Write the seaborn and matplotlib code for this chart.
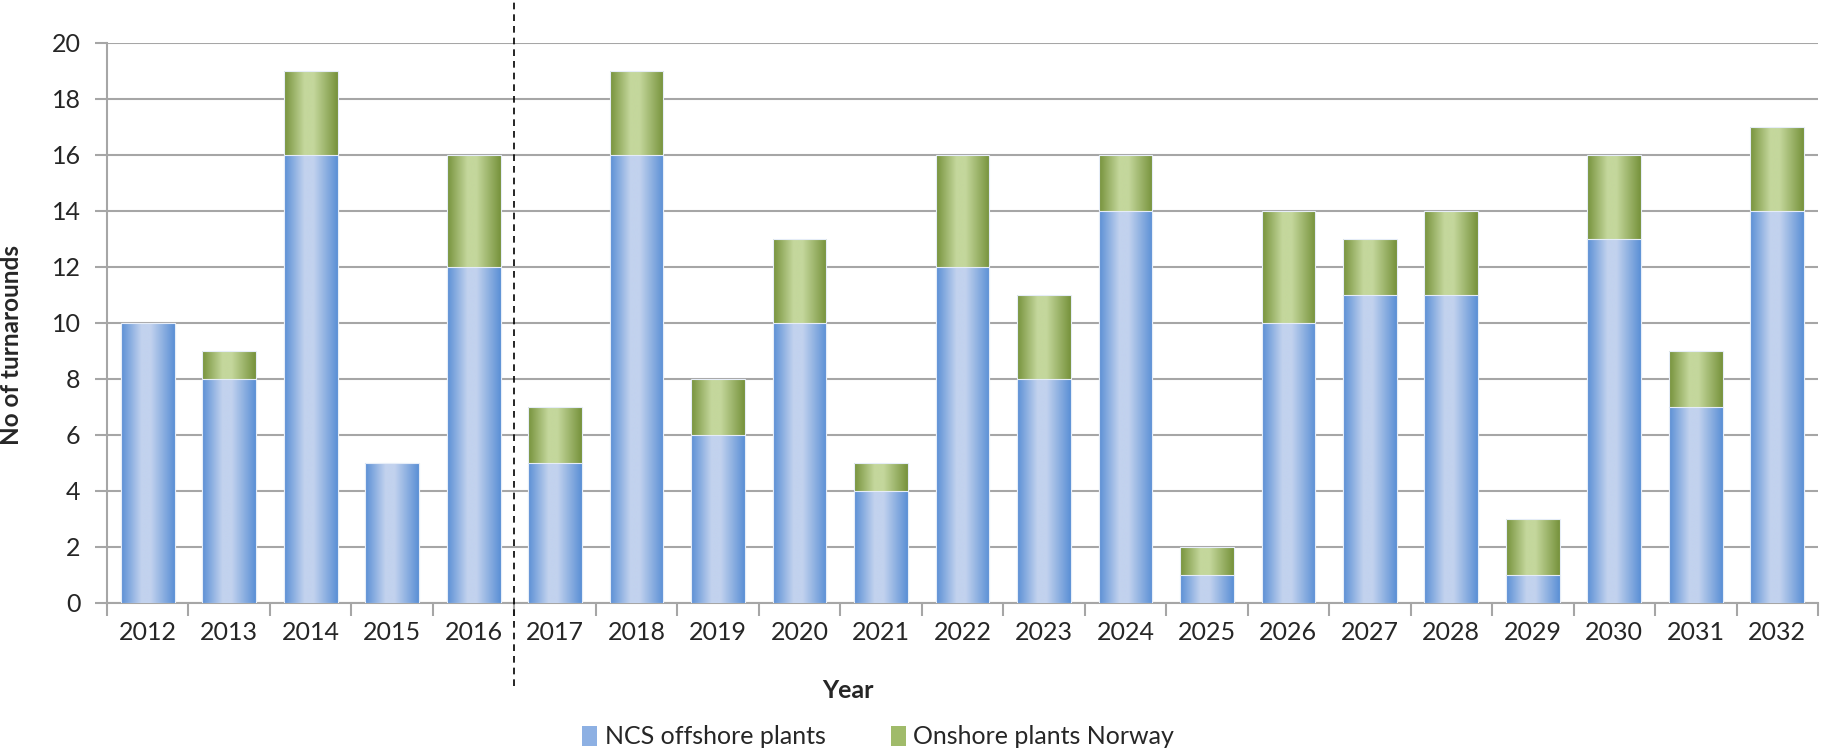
import numpy as np
import pandas as pd
import matplotlib
matplotlib.use("Agg")
import matplotlib.pyplot as plt
import seaborn as sns
from matplotlib.colors import LinearSegmentedColormap
from matplotlib.patches import Patch

# data
years = [str(y) for y in range(2012, 2033)]
ncs_offshore = [10, 8, 16, 5, 12, 5, 16, 6, 10, 4, 12, 8, 14, 1, 10, 11, 11, 1, 13, 7, 14]
onshore_norway = [0, 1, 3, 0, 4, 2, 3, 2, 3, 1, 4, 3, 2, 1, 4, 2, 3, 2, 3, 2, 3]
y_ticks = list(range(0, 21, 2))

df = pd.DataFrame({"Year": years,
                   "NCS offshore plants": ncs_offshore,
                   "Onshore plants Norway": onshore_norway})
df["Total"] = df["NCS offshore plants"] + df["Onshore plants Norway"]

blue_dark, blue_light = "#5a8fd5", "#c2d2ee"
green_dark, green_light = "#76923b", "#c4d79c"
blue_cmap = LinearSegmentedColormap.from_list(
    "b", [(0, blue_dark), (0.38, blue_light), (0.55, blue_light), (1, blue_dark)])
green_cmap = LinearSegmentedColormap.from_list(
    "g", [(0, green_dark), (0.38, green_light), (0.55, green_light), (1, green_dark)])

sns.set_style("white")
plt.rcParams["font.family"] = ["Lato", "DejaVu Sans"]

W, H = 1821, 751
fig = plt.figure(figsize=(W / 100, H / 100), dpi=100)
ax = fig.add_axes([107 / W, 1 - 603 / H, (1818 - 107) / W, (603 - 43) / H])

# stacked bars: total (green) underneath, offshore (blue) on top
sns.barplot(data=df, x="Year", y="Total", color=green_dark, width=0.66,
            saturation=1, ax=ax)
sns.barplot(data=df, x="Year", y="NCS offshore plants", color=blue_dark,
            width=0.66, saturation=1, ax=ax)

# horizontal gradient fill for each bar, like the Excel original
grad = np.linspace(0, 1, 256).reshape(1, -1)
n = len(years)
for i, p in enumerate(ax.patches):
    h = p.get_height()
    if h <= 0:
        p.set_visible(False)
        continue
    cmap = green_cmap if i < n else blue_cmap
    z = 2 if i < n else 3
    x0, w = p.get_x(), p.get_width()
    ax.imshow(grad, cmap=cmap, aspect="auto", extent=(x0, x0 + w, 0, h),
              zorder=z, interpolation="bilinear")
    p.set_facecolor("none")
    p.set_edgecolor("#e6edf8")
    p.set_linewidth(0.8)
    p.set_zorder(z + 0.5)

ax.set_xlim(-0.5, n - 0.5)
ax.set_ylim(0, 20)
ax.set_yticks(y_ticks)
ax.set_xticks(range(n))
ax.set_xticklabels(years)
ax.set_xticks(np.arange(-0.5, n, 1), minor=True)

ax.yaxis.grid(True, color="#a6a6a6", lw=1.5)
ax.set_axisbelow(True)
sns.despine(ax=ax)
for s in ["left", "bottom"]:
    ax.spines[s].set_color("#a6a6a6")
    ax.spines[s].set_linewidth(1.5)

ax.tick_params(axis="x", which="major", length=0, pad=13, labelsize=18,
               labelcolor="#262626")
ax.tick_params(axis="x", which="minor", length=9, width=1.5, color="#a6a6a6",
               direction="out", bottom=True)
ax.tick_params(axis="y", length=9, width=1.5, color="#a6a6a6", direction="out",
               left=True, pad=10, labelsize=18, labelcolor="#262626")

# dashed separator between 2016 and 2017
ax.plot([4.5, 4.5], [-2.95, 21.8], ls=(0, (4, 3)), color="black", lw=1.2,
        clip_on=False, zorder=5)

ax.set_ylabel("No of turnarounds", fontsize=17.5, fontweight="bold")
ax.yaxis.set_label_coords(-0.049, 0.46)
ax.set_xlabel("Year", fontsize=18, fontweight="bold")
ax.xaxis.set_label_coords(0.433, -0.135)

handles = [Patch(facecolor="#8db0e3", edgecolor="none", label="NCS offshore plants"),
           Patch(facecolor="#a0bb6a", edgecolor="none", label="Onshore plants Norway")]
fig.legend(handles=handles, loc="center", bbox_to_anchor=(878 / W, 1 - 737 / H),
           ncol=2, frameon=False, fontsize=18, handlelength=0.6,
           handleheight=0.9, handletextpad=0.3, columnspacing=2.6)

fig.savefig("out.png", dpi=100)
